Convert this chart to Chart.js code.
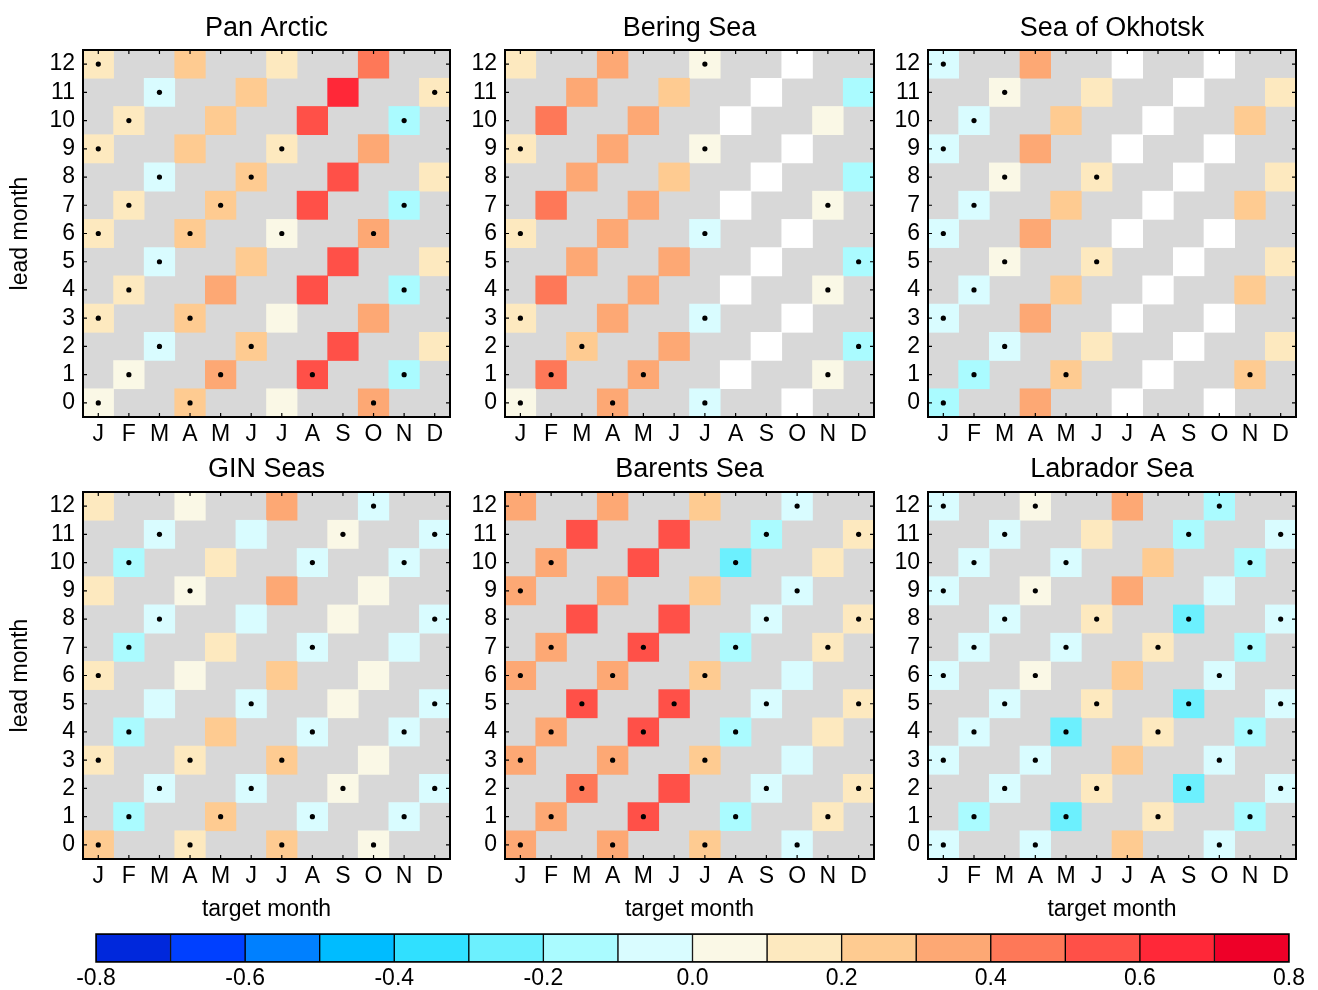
<!DOCTYPE html>
<html>
<head>
<meta charset="utf-8">
<script src="https://cdn.jsdelivr.net/npm/chart.js@4.4.1/dist/chart.umd.min.js"></script>
<style>
  body { margin: 0; background: #fff; width: 1318px; height: 990px; position: relative; overflow: hidden; }
  .box { position: absolute; }
</style>
</head>
<body>
<div class="box" id="box0"><canvas id="c0"></canvas></div>
<div class="box" id="box1"><canvas id="c1"></canvas></div>
<div class="box" id="box2"><canvas id="c2"></canvas></div>
<div class="box" id="box3"><canvas id="c3"></canvas></div>
<div class="box" id="box4"><canvas id="c4"></canvas></div>
<div class="box" id="box5"><canvas id="c5"></canvas></div>
<div class="box" id="boxbar"><canvas id="cbar"></canvas></div>
<script>
// target months (x) and lead months (y)
const monthKeys = ['Jan', 'Feb', 'Mar', 'Apr', 'May', 'Jun', 'Jul', 'Aug', 'Sep', 'Oct', 'Nov', 'Dec'];
const monthLetters = ['J', 'F', 'M', 'A', 'M', 'J', 'J', 'A', 'S', 'O', 'N', 'D'];
const leadMonths = [0, 1, 2, 3, 4, 5, 6, 7, 8, 9, 10, 11, 12];

// colour scale
const colorEdges = [-0.8, -0.7, -0.6, -0.5, -0.4, -0.3, -0.2, -0.1, 0.0, 0.1, 0.2, 0.3, 0.4, 0.5, 0.6, 0.7, 0.8];
const colorTicks = [-0.8, -0.6, -0.4, -0.2, 0.0, 0.2, 0.4, 0.6, 0.8];
const palette = ['#0028dc', '#0040ff', '#0080ff', '#00bcff', '#30e0ff', '#6cf0fe', '#aafbff', '#d9fcff',
                 '#faf8e6', '#fde9bf', '#fecb91', '#fda874', '#fe7858', '#ff5048', '#ff2838', '#ee0028'];

// Each row is one lead month (0..12). A row holds the 4 verified target months,
// every third month starting at (lead % 3). null = no data (white).
const panArcticR = [
    [0.05, 0.25, 0.05, 0.35], [0.05, 0.35, 0.55, -0.15], [-0.05, 0.25, 0.55, 0.15],
    [0.15, 0.25, 0.05, 0.35], [0.15, 0.35, 0.55, -0.15], [-0.05, 0.25, 0.55, 0.15],
    [0.15, 0.25, 0.05, 0.35], [0.15, 0.25, 0.55, -0.15], [-0.05, 0.25, 0.55, 0.15],
    [0.15, 0.25, 0.15, 0.35], [0.15, 0.25, 0.55, -0.15], [-0.05, 0.25, 0.65, 0.15],
    [0.15, 0.25, 0.15, 0.45]
];
const panArcticSig = [
    [1, 1, 0, 1], [1, 1, 1, 1], [1, 1, 0, 0], [1, 1, 0, 0], [1, 0, 0, 1], [1, 0, 0, 0], [1, 1, 1, 1],
    [1, 1, 0, 1], [1, 1, 0, 0], [1, 0, 1, 0], [1, 0, 0, 1], [1, 0, 0, 1], [1, 0, 0, 0]
];

const beringR = [
    [0.05, 0.35, -0.05, null], [0.45, 0.35, null, 0.05], [0.25, 0.35, null, -0.15],
    [0.15, 0.35, -0.05, null], [0.45, 0.35, null, 0.05], [0.35, 0.35, null, -0.15],
    [0.15, 0.35, -0.05, null], [0.45, 0.35, null, 0.05], [0.35, 0.25, null, -0.15],
    [0.15, 0.35, 0.05, null], [0.45, 0.35, null, 0.05], [0.35, 0.25, null, -0.15],
    [0.15, 0.35, 0.05, null]
];
const beringSig = [
    [1, 1, 1, 0], [1, 1, 0, 1], [1, 0, 0, 1], [1, 0, 1, 0], [0, 0, 0, 1], [0, 0, 0, 1], [1, 0, 1, 0],
    [0, 0, 0, 1], [0, 0, 0, 0], [1, 0, 1, 0], [0, 0, 0, 0], [0, 0, 0, 0], [0, 0, 1, 0]
];

const okhotskR = [
    [-0.15, 0.35, null, null], [-0.15, 0.25, null, 0.25], [-0.05, 0.15, null, 0.15],
    [-0.05, 0.35, null, null], [-0.05, 0.25, null, 0.25], [0.05, 0.15, null, 0.15],
    [-0.05, 0.35, null, null], [-0.05, 0.25, null, 0.25], [0.05, 0.15, null, 0.15],
    [-0.05, 0.35, null, null], [-0.05, 0.25, null, 0.25], [0.05, 0.15, null, 0.15],
    [-0.05, 0.35, null, null]
];
const okhotskSig = [
    [1, 0, 0, 0], [1, 1, 0, 1], [1, 0, 0, 0], [1, 0, 0, 0], [1, 0, 0, 0], [1, 1, 0, 0], [1, 0, 0, 0],
    [1, 0, 0, 0], [1, 1, 0, 0], [1, 0, 0, 0], [1, 0, 0, 0], [1, 0, 0, 0], [1, 0, 0, 0]
];

const ginR = [
    [0.25, 0.15, 0.25, 0.05], [-0.15, 0.25, -0.05, -0.05], [-0.05, -0.05, 0.05, -0.05],
    [0.15, 0.15, 0.25, 0.05], [-0.15, 0.25, -0.05, -0.05], [-0.05, -0.05, 0.05, -0.05],
    [0.15, 0.05, 0.25, 0.05], [-0.15, 0.15, -0.05, -0.05], [-0.05, -0.05, 0.05, -0.05],
    [0.15, 0.05, 0.35, 0.05], [-0.15, 0.15, -0.05, -0.05], [-0.05, -0.05, 0.05, -0.05],
    [0.15, 0.05, 0.35, -0.05]
];
const ginSig = [
    [1, 1, 1, 1], [1, 1, 1, 1], [1, 1, 1, 1], [1, 1, 1, 0], [1, 0, 1, 1], [0, 1, 0, 1], [1, 0, 0, 0],
    [1, 0, 1, 0], [1, 0, 0, 1], [0, 1, 0, 0], [1, 0, 1, 1], [1, 0, 1, 1], [0, 0, 0, 1]
];

const barentsR = [
    [0.35, 0.35, 0.25, -0.05], [0.35, 0.55, -0.15, 0.15], [0.45, 0.55, -0.05, 0.15],
    [0.35, 0.35, 0.25, -0.05], [0.35, 0.55, -0.15, 0.15], [0.55, 0.55, -0.05, 0.15],
    [0.35, 0.35, 0.25, -0.05], [0.35, 0.55, -0.15, 0.15], [0.55, 0.55, -0.05, 0.15],
    [0.35, 0.35, 0.25, -0.05], [0.35, 0.55, -0.25, 0.15], [0.55, 0.55, -0.15, 0.15],
    [0.35, 0.35, 0.25, -0.05]
];
const barentsSig = [
    [1, 1, 1, 1], [1, 1, 1, 1], [1, 0, 1, 1], [1, 1, 1, 0], [1, 1, 1, 0], [1, 1, 1, 1], [1, 1, 1, 0],
    [1, 1, 1, 1], [0, 0, 1, 1], [1, 0, 0, 1], [1, 0, 1, 0], [0, 0, 1, 1], [0, 0, 0, 1]
];

const labradorR = [
    [-0.05, -0.05, 0.25, -0.05], [-0.15, -0.25, 0.15, -0.15], [-0.05, 0.15, -0.25, -0.05],
    [-0.05, -0.05, 0.25, -0.05], [-0.05, -0.25, 0.15, -0.15], [-0.05, 0.15, -0.25, -0.05],
    [-0.05, 0.05, 0.25, -0.05], [-0.05, -0.05, 0.15, -0.15], [-0.05, 0.15, -0.25, -0.05],
    [-0.05, 0.05, 0.35, -0.05], [-0.05, -0.05, 0.25, -0.15], [-0.05, 0.15, -0.15, -0.05],
    [-0.05, 0.05, 0.35, -0.15]
];
const labradorSig = [
    [1, 1, 0, 1], [1, 1, 1, 1], [1, 1, 1, 1], [1, 1, 0, 1], [1, 1, 1, 1], [1, 1, 1, 1], [1, 1, 0, 1],
    [1, 1, 1, 1], [1, 1, 1, 1], [1, 1, 0, 0], [1, 1, 0, 1], [1, 0, 1, 1], [1, 1, 0, 1]
];

const panels = [
    { title: 'Pan Arctic', values: panArcticR, sig: panArcticSig },
    { title: 'Bering Sea', values: beringR, sig: beringSig },
    { title: 'Sea of Okhotsk', values: okhotskR, sig: okhotskSig },
    { title: 'GIN Seas', values: ginR, sig: ginSig },
    { title: 'Barents Sea', values: barentsR, sig: barentsSig },
    { title: 'Labrador Sea', values: labradorR, sig: labradorSig }
];

// page layout (canvas boxes sized so the plot areas line up)
const cols = [
    { left: 0, width: 455, yW: 83, padR: 5 },
    { left: 455, width: 424, yW: 50, padR: 5 },
    { left: 879, width: 439, yW: 49, padR: 22 }
];
const rows = [
    { top: 0, height: 455, tTop: 12, tBottom: 5.6, xH: 38 },
    { top: 445, height: 480, tTop: 8.8, tBottom: 5.8, xH: 66 }
];

const GRAY = '#d8d8d8';
const FONT = '"Liberation Sans", Arial, Helvetica, sans-serif';
Chart.defaults.font.family = FONT;
Chart.defaults.color = '#000';

function colorFor(v) {
    if (v === null) return '#ffffff';
    for (let i = 0; i < palette.length; i++) {
        if (v < colorEdges[i + 1]) return palette[i];
    }
    return palette[palette.length - 1];
}

// grey background, black box and inward ticks on all four sides
const framePlugin = {
    id: 'frame',
    beforeDatasetsDraw(chart) {
        const { ctx, chartArea: a } = chart;
        ctx.save();
        ctx.fillStyle = GRAY;
        ctx.fillRect(a.left, a.top, a.right - a.left, a.bottom - a.top);
        ctx.restore();
    },
    afterDatasetsDraw(chart) {
        const { ctx, chartArea: a, scales: { x, y } } = chart;
        const tl = 4;
        ctx.save();
        ctx.strokeStyle = '#000';
        ctx.lineWidth = 1.2;
        ctx.beginPath();
        x.ticks.forEach((t, i) => {
            const px = x.getPixelForTick(i);
            ctx.moveTo(px, a.top); ctx.lineTo(px, a.top + tl);
            ctx.moveTo(px, a.bottom); ctx.lineTo(px, a.bottom - tl);
        });
        y.ticks.forEach(t => {
            const py = y.getPixelForValue(t.value);
            ctx.moveTo(a.left, py); ctx.lineTo(a.left + tl, py);
            ctx.moveTo(a.right, py); ctx.lineTo(a.right - tl, py);
        });
        ctx.stroke();
        ctx.lineWidth = 2;
        ctx.strokeRect(a.left, a.top, a.right - a.left, a.bottom - a.top);
        ctx.restore();
    }
};

function buildPanel(p, idx) {
    const col = cols[idx % 3];
    const row = rows[Math.floor(idx / 3)];
    const box = document.getElementById('box' + idx);
    box.style.left = col.left + 'px';
    box.style.top = row.top + 'px';
    box.style.width = col.width + 'px';
    box.style.height = row.height + 'px';

    const isLeft = idx % 3 === 0;
    const isBottom = idx >= 3;

    const cellSets = leadMonths.map(lead => {
        const data = monthKeys.map(() => null);
        const colors = monthKeys.map(() => 'rgba(0,0,0,0)');
        p.values[lead].forEach((v, k) => {
            const m = (lead % 3) + 3 * k;
            data[m] = [lead - 0.5, lead + 0.5];
            colors[m] = colorFor(v);
        });
        return { type: 'bar', data, backgroundColor: colors, borderWidth: 0, order: 1 };
    });

    const dots = [];
    leadMonths.forEach(lead => {
        p.sig[lead].forEach((s, k) => {
            if (s) dots.push({ x: monthKeys[(lead % 3) + 3 * k], y: lead });
        });
    });

    new Chart(document.getElementById('c' + idx), {
        type: 'bar',
        data: {
            labels: monthKeys,
            datasets: [
                {
                    type: 'line', data: dots, showLine: false, order: 0,
                    pointRadius: 2.6, pointBackgroundColor: '#000', pointBorderWidth: 0, pointHoverRadius: 2.6
                },
                ...cellSets
            ]
        },
        options: {
            responsive: true,
            maintainAspectRatio: false,
            animation: false,
            events: [],
            layout: { padding: { right: col.padR, left: 0, top: 0, bottom: 0 } },
            datasets: { bar: { grouped: false, barPercentage: 1, categoryPercentage: 1 } },
            plugins: {
                legend: { display: false },
                tooltip: { enabled: false },
                title: {
                    display: true, text: p.title, fullSize: false, color: '#000',
                    font: { size: 27, weight: 'normal' },
                    padding: { top: row.tTop, bottom: row.tBottom }
                }
            },
            scales: {
                x: {
                    type: 'category',
                    offset: true,
                    grid: { display: false, drawTicks: false },
                    border: { display: false },
                    ticks: {
                        callback: (v, i) => monthLetters[i],
                        autoSkip: false, maxRotation: 0,
                        font: { size: 23 }, color: '#000', padding: 4
                    },
                    title: {
                        display: isBottom, text: 'target month', color: '#000',
                        font: { size: 23 }, padding: { top: 0, bottom: 2 }
                    },
                    afterFit: s => { s.height = row.xH; }
                },
                y: {
                    type: 'linear',
                    min: -0.5, max: 12.5,
                    afterBuildTicks: s => { s.ticks = leadMonths.map(v => ({ value: v })); },
                    grid: { display: false, drawTicks: false },
                    border: { display: false },
                    ticks: { font: { size: 23 }, color: '#000', padding: 8, autoSkip: false },
                    title: {
                        display: isLeft, text: 'lead month', color: '#000',
                        font: { size: 23 }, padding: { top: 7, bottom: 0 }
                    },
                    afterFit: s => { s.width = col.yW; }
                }
            }
        },
        plugins: [framePlugin]
    });
}

panels.forEach(buildPanel);

// colour bar
const barBox = document.getElementById('boxbar');
barBox.style.left = '0px';
barBox.style.top = '925px';
barBox.style.width = '1318px';
barBox.style.height = '65px';

const outlinePlugin = {
    id: 'outline',
    afterDatasetsDraw(chart) {
        const { ctx, chartArea: a } = chart;
        ctx.save();
        ctx.strokeStyle = '#000';
        ctx.lineWidth = 1.5;
        ctx.strokeRect(a.left, a.top, a.right - a.left, a.bottom - a.top);
        ctx.restore();
    }
};

new Chart(document.getElementById('cbar'), {
    type: 'bar',
    data: {
        labels: [''],
        datasets: palette.map((c, i) => ({
            data: [[colorEdges[i], colorEdges[i + 1]]],
            backgroundColor: c,
            borderColor: '#000',
            borderWidth: 1,
            borderSkipped: false
        }))
    },
    options: {
        indexAxis: 'y',
        responsive: true,
        maintainAspectRatio: false,
        animation: false,
        events: [],
        layout: { padding: { left: 96, right: 29, top: 9, bottom: 0 } },
        datasets: { bar: { grouped: false, barPercentage: 1, categoryPercentage: 1 } },
        plugins: { legend: { display: false }, tooltip: { enabled: false } },
        scales: {
            x: {
                type: 'linear', min: -0.8, max: 0.8,
                afterBuildTicks: s => { s.ticks = colorTicks.map(v => ({ value: v })); },
                grid: { display: false, drawTicks: false },
                border: { display: false },
                ticks: { callback: v => v.toFixed(1), font: { size: 23 }, color: '#000', padding: 3, autoSkip: false, maxRotation: 0 },
                afterFit: s => { s.height = 28; }
            },
            y: { display: false }
        }
    },
    plugins: [outlinePlugin]
});
</script>
</body>
</html>
